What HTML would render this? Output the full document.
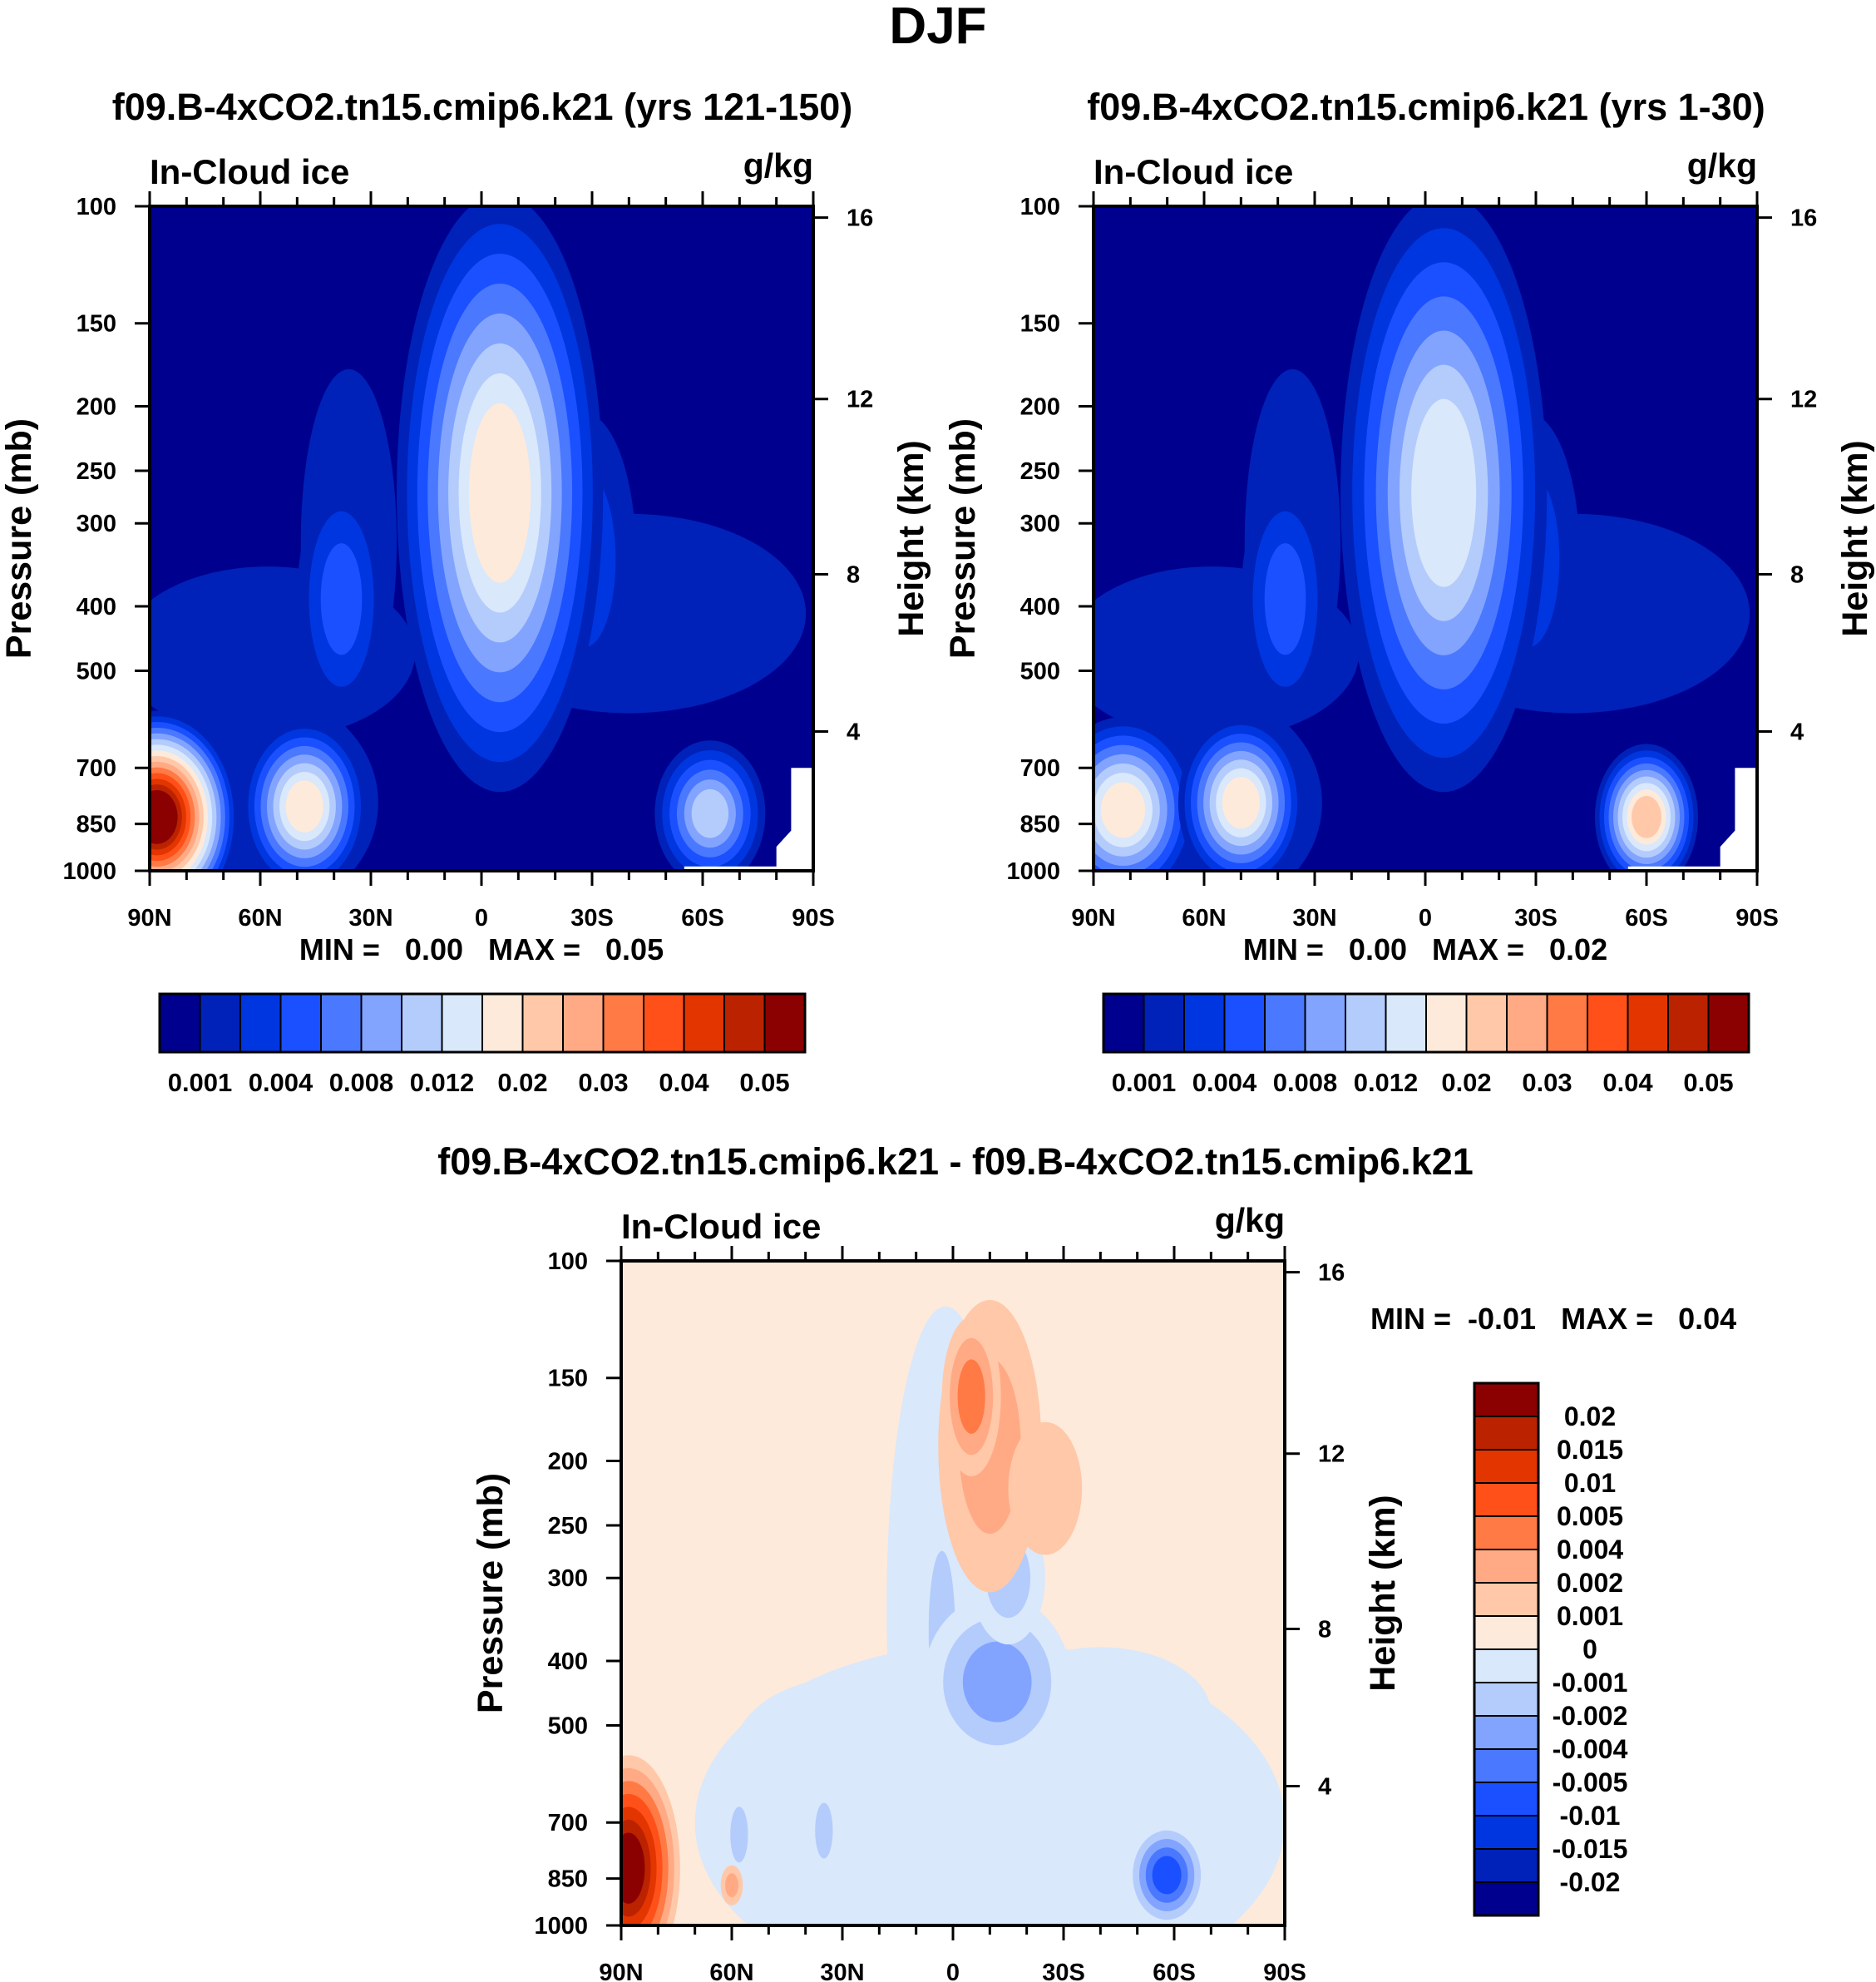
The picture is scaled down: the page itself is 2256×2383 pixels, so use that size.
<!DOCTYPE html>
<html><head><meta charset="utf-8">
<style>
html,body{margin:0;padding:0;background:#fff;}
svg{display:block;font-family:"Liberation Sans",sans-serif;font-weight:bold;}
.pre{white-space:pre;}
</style></head>
<body>
<svg id="fig" width="2256" height="2383" viewBox="0 0 2256 2383" xmlns="http://www.w3.org/2000/svg">
<text x="1128" y="52" font-size="62" text-anchor="middle">DJF</text>
</svg>
<script>
// ---- data ----
const palette = ['#00008f','#0022b8','#0036e0','#1a50ff','#4a78ff','#82a4ff','#b4ccfc','#d9e8fb','#fdeadb','#ffc8a8','#ffaa85','#ff7a45','#ff5019','#e33500','#bb2200','#8b0000'];
const cbLabels12 = ['0.001','0.004','0.008','0.012','0.02','0.03','0.04','0.05'];
const cbLabelsDiff = ['0.02','0.015','0.01','0.005','0.004','0.002','0.001','0','-0.001','-0.002','-0.004','-0.005','-0.01','-0.015','-0.02'];
const latTicks = [90,60,30,0,-30,-60,-90];
const latTickLabels = ['90N','60N','30N','0','30S','60S','90S'];
const pTicks = [100,150,200,250,300,400,500,700,850,1000];
const hTicks = [16,12,8,4];
const hTickPressure = [104,195,358,617];
// features: [lat, pressure, halfWidthDeg, halfHeightLog10, targetLevel]
const feat1 = [
 [58,470,40,0.13,1],[36,320,13,0.26,1],[-40,410,48,0.15,1],[-28,340,14,0.22,2],[-5,270,28,0.45,8],
 [38,390,12,0.18,3],[62,790,34,0.17,1],[88,830,22,0.16,15],[48,800,17,0.13,8],[-62,820,15,0.11,6]];
const feat2 = [
 [58,470,40,0.13,1],[36,320,13,0.26,1],[-40,410,48,0.15,1],[-28,340,14,0.22,2],[-5,270,28,0.45,7],
 [38,390,12,0.18,3],[62,790,34,0.17,1],[82,810,20,0.14,8],[50,790,17,0.13,8],[-60,830,14,0.11,9]];
const feat3 = [
 [-10,700,80,0.27,7],[2,330,16,0.45,7],[30,560,30,0.12,7],[-40,480,30,0.1,7],
 [3,360,6,0.2,6],[-12,430,20,0.13,5],[-15,300,10,0.1,6],[-10,190,14,0.22,10],[-5,160,8,0.12,11],
 [-25,220,10,0.1,9],[88,820,14,0.17,15],[-58,840,11,0.08,3],[58,730,4,0.07,6],[35,720,4,0.07,6],[60,870,3,0.03,10]];
const panels = [
 {x:180,y:248,bg:0,feat:feat1,title:'f09.B-4xCO2.tn15.cmip6.k21 (yrs 121-150)',tx:580,min:'0.00',max:'0.05',white:true},
 {x:1315,y:248,bg:0,feat:feat2,title:'f09.B-4xCO2.tn15.cmip6.k21 (yrs 1-30)',tx:1715,min:'0.00',max:'0.02',white:true},
 {x:747,y:1516,bg:8,feat:feat3,title:'f09.B-4xCO2.tn15.cmip6.k21 - f09.B-4xCO2.tn15.cmip6.k21',tx:1149,min:'-0.01',max:'0.04',white:false}];
const W=798,H=799;
const NS='http://www.w3.org/2000/svg';
const svg=document.getElementById('fig');
function mk(tag,attrs,parent){const e=document.createElementNS(NS,tag);for(const k in attrs)e.setAttribute(k,attrs[k]);(parent||svg).appendChild(e);return e;}
function txt(s,attrs,parent){const e=mk('text',attrs,parent);e.textContent=s;return e;}

panels.forEach((P,pi)=>{
 const xs=lat=>P.x+(90-lat)/180*W;
 const ys=p=>P.y+Math.log10(p/100)*H;
 const g=mk('g',{});
 
 
 const cp=mk('clipPath',{id:'clip'+pi},g);
 mk('rect',{x:P.x,y:P.y,width:W,height:H},cp);
 const plot=mk('g',{'clip-path':'url(#clip'+pi+')'},g);
 
 
 const bgR=mk('rect',{x:P.x,y:P.y,width:W,height:H,fill:palette[P.bg]},plot);
 
 
 P.feat.forEach(f=>{
  const [lat,p,dl,dp,lev]=f;
  const dir=lev>P.bg?1:-1;
  const n=Math.abs(lev-P.bg);
  for(let i=1;i<=n;i++){
   const fac=1-(i-1)/n*0.8;
   const e=mk('ellipse',{cx:xs(lat),cy:ys(p),rx:dl*W/180*fac,ry:dp*H*fac,fill:palette[P.bg+dir*i]},plot);
   
   
  }
 });
 if(P.white){
  const pts=[[-55,985],[-80,985],[-80,920],[-84,870],[-84,700],[-90,700],[-90,1000],[-55,1000]].map(q=>xs(q[0])+','+ys(q[1])).join(' ');
  const wp=mk('polygon',{points:pts,fill:'#fff'},plot);
  
  
 }
 const fr=mk('rect',{x:P.x,y:P.y,width:W,height:H,fill:'none',stroke:'#000','stroke-width':4},g);
 
 
 for(let lat=90;lat>=-90;lat-=10){
  const major=lat%30===0, L=major?18:11, x=xs(lat);
  mk('line',{x1:x,x2:x,y1:P.y,y2:P.y-L,stroke:'#000','stroke-width':3},g);
  mk('line',{x1:x,x2:x,y1:P.y+H,y2:P.y+H+L,stroke:'#000','stroke-width':3},g);
 }
 latTicks.forEach((lat,i)=>{
  const t=txt(latTickLabels[i],{x:xs(lat),y:P.y+H+66,'font-size':29,'text-anchor':'middle'},g);
  
  
 });
 pTicks.forEach(p=>{
  mk('line',{x1:P.x,x2:P.x-18,y1:ys(p),y2:ys(p),stroke:'#000','stroke-width':3},g);
  const t=txt(String(p),{x:P.x-40,y:ys(p)+10,'font-size':29,'text-anchor':'end'},g);
  
  
 });
 hTicks.forEach((h,i)=>{
  const y=ys(hTickPressure[i]);
  mk('line',{x1:P.x+W,x2:P.x+W+18,y1:y,y2:y,stroke:'#000','stroke-width':3},g);
  const t=txt(String(h),{x:P.x+W+40,y:y+10,'font-size':29},g);
  
  
 });
 const tt=txt(P.title,{x:P.tx,y:P.y-104,'font-size':45,'text-anchor':'middle'},g);
 
 
 const lt=txt('In-Cloud ice',{x:P.x,y:P.y-27,'font-size':42},g);
 
 
 const ut=txt('g/kg',{x:P.x+W,y:P.y-35,'font-size':41,'text-anchor':'end'},g);
 
 
 const yt=txt('Pressure (mb)',{x:0,y:0,'font-size':43,'text-anchor':'middle',transform:'translate('+(P.x-143)+','+(P.y+H/2)+') rotate(-90)'},g);
 
 
 const ht=txt('Height (km)',{x:0,y:0,'font-size':43,'text-anchor':'middle',transform:'translate('+(P.x+W+132)+','+(P.y+H/2)+') rotate(-90)'},g);
 
 
 const mm = pi<2
   ? txt('MIN =   '+P.min+'   MAX =   '+P.max,{x:P.x+W/2,y:1154,'font-size':36,'text-anchor':'middle','class':'pre'},g)
   : txt('MIN =  '+P.min+'   MAX =   '+P.max,{x:1648,y:1598,'font-size':36,'class':'pre'},g);
 
 
 // colorbars
 const cb=mk('g',{});
 
 
 if(pi<2){
  const x0=P.x+12,bw=776/16,y0=1195,bh=70;
  palette.forEach((c,i)=>{
   const r=mk('rect',{x:x0+i*bw,y:y0,width:bw,height:bh,fill:c,stroke:'#000','stroke-width':2},cb);
   
   
  });
  mk('rect',{x:x0,y:y0,width:bw*16,height:bh,fill:'none',stroke:'#000','stroke-width':3},cb);
  cbLabels12.forEach((s,i)=>{
   const t=txt(s,{x:x0+(2*i+1)*bw,y:1312,'font-size':31,'text-anchor':'middle'},cb);
   
   
  });
 } else {
  const x0=1773,bw=77,y0=1663,bh=40;
  palette.slice().reverse().forEach((c,i)=>{
   const r=mk('rect',{x:x0,y:y0+i*bh,width:bw,height:bh,fill:c,stroke:'#000','stroke-width':2},cb);
   
   
  });
  mk('rect',{x:x0,y:y0,width:bw,height:bh*16,fill:'none',stroke:'#000','stroke-width':3},cb);
  cbLabelsDiff.forEach((s,i)=>{
   const t=txt(s,{x:1912,y:y0+(i+1)*bh+11,'font-size':32,'text-anchor':'middle'},cb);
   
   
  });
 }
});
</script>
</body></html>
